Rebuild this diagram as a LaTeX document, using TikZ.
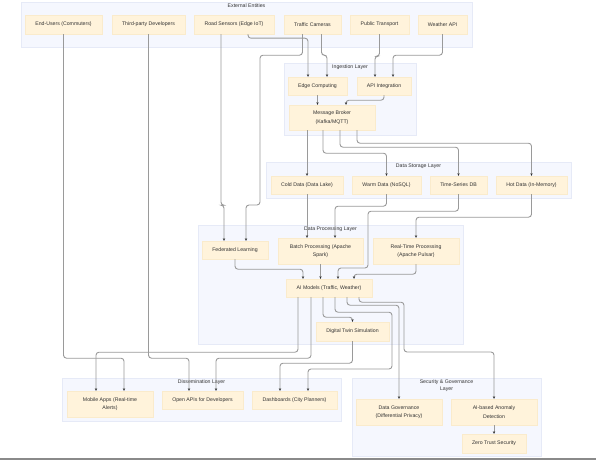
\documentclass[tikz,border=0pt]{standalone}
\usepackage{fontspec}
\setmainfont{Liberation Sans}
\usepackage{xcolor}
\definecolor{textcolor}{HTML}{333333}
\definecolor{layerfill}{HTML}{F5F7FE}
\definecolor{layerborder}{HTML}{E6EAF7}
\definecolor{blockfill}{HTML}{FFF3DB}
\definecolor{blockborder}{HTML}{FAEBCC}
\definecolor{linkcolor}{HTML}{9A9A9A}
\definecolor{tipcolor}{HTML}{2A2A2A}
\definecolor{framecolor}{HTML}{8A8A8A}
\usepackage{tikz}
\usetikzlibrary{positioning,arrows.meta}
\tikzset{
    layer/.style={
        rectangle,
        draw=layerborder,
        fill=layerfill,
        line width=0.6pt,
        inner sep=0pt,
    },
    layertitle/.style={
        text=textcolor,
        font=\fontsize{5.2}{7}\selectfont,
        align=center,
        inner sep=0pt,
        anchor=north,
    },
    block/.style={
        rectangle,
        draw=blockborder,
        fill=blockfill,
        text=textcolor,
        align=center,
        inner sep=0pt,
        line width=0.4pt,
        font=\fontsize{5.2}{8.5}\selectfont,
    },
    link/.style={
        -{Stealth[length=2.6pt,width=2.4pt,color=tipcolor]},
        line width=0.9pt,
        linkcolor,
        rounded corners=3pt,
    },
}

\begin{document}
\begin{tikzpicture}[x=1pt,y=-1pt]
    \useasboundingbox (0,0) rectangle (596,460);

    % Layers
    \node[layer, minimum width=451pt, minimum height=45pt] (extlayer) at (246.5,24.5) {};
    \node[layer, minimum width=132pt, minimum height=72pt] (inglayer) at (350,99) {};
    \node[layer, minimum width=305pt, minimum height=36pt] (storelayer) at (418.5,180) {};
    \node[layer, minimum width=265pt, minimum height=119pt] (proclayer) at (330.5,284.5) {};
    \node[layer, minimum width=279pt, minimum height=43pt] (disslayer) at (201.5,399.5) {};
    \node[layer, minimum width=189pt, minimum height=78pt] (seclayer) at (446.5,417) {};

    \node[layertitle] (exttitle) at (246.5,4) {External Entities};
    \node[layertitle] (ingtitle) at (350,65) {Ingestion Layer};
    \node[layertitle] (storetitle) at (418.5,164) {Data Storage Layer};
    \node[layertitle] (proctitle) at (330.5,227) {Data Processing Layer};
    \node[layertitle] (disstitle) at (201.5,380) {Dissemination Layer};
    \node[layertitle] (sectitle) at (446.5,380) {Security \& Governance\\Layer};

    % External entities
    \node[block, minimum width=77pt, minimum height=19pt] (eusers) at (63.5,24.5) {End-Users (Commuters)};
    \node[block, minimum width=73pt, minimum height=19pt] (tpdev) at (148.5,24.5) {Third-party Developers};
    \node[block, minimum width=80pt, minimum height=19pt] (rsens) at (234,24.5) {Road Sensors (Edge IoT)};
    \node[block, minimum width=57pt, minimum height=19pt] (tcam) at (312.5,24.5) {Traffic Cameras};
    \node[block, minimum width=59pt, minimum height=19pt] (ptrans) at (379.5,24.5) {Public Transport};
    \node[block, minimum width=49pt, minimum height=19pt] (wapi) at (442.5,24.5) {Weather API};

    % Ingestion
    \node[block, minimum width=59pt, minimum height=18pt] (edgec) at (317.5,86) {Edge Computing};
    \node[block, minimum width=54pt, minimum height=18pt] (apiint) at (384,86) {API Integration};
    \node[block, minimum width=86pt, minimum height=25pt] (broker) at (332,117.5) {Message Broker\\(Kafka/MQTT)};

    % Storage
    \node[block, minimum width=72pt, minimum height=18pt] (cold) at (307,185) {Cold Data (Data Lake)};
    \node[block, minimum width=69pt, minimum height=18pt] (warm) at (386.5,185) {Warm Data (NoSQL)};
    \node[block, minimum width=57pt, minimum height=18pt] (tsdb) at (458.5,185) {Time-Series DB};
    \node[block, minimum width=71pt, minimum height=18pt] (hot) at (531.5,185) {Hot Data (In-Memory)};

    % Processing
    \node[block, minimum width=66pt, minimum height=18pt] (fedl) at (235,250) {Federated Learning};
    \node[block, minimum width=85pt, minimum height=26pt] (batch) at (320.5,251) {Batch Processing (Apache\\Spark)};
    \node[block, minimum width=86pt, minimum height=26pt] (rtp) at (416,251) {Real-Time Processing\\(Apache Pulsar)};
    \node[block, minimum width=86pt, minimum height=18pt] (aimod) at (329,288) {AI Models (Traffic, Weather)};
    \node[block, minimum width=73pt, minimum height=19pt] (dtwin) at (352.5,331.5) {Digital Twin Simulation};

    % Dissemination
    \node[block, minimum width=86pt, minimum height=26pt] (mobapp) at (110,404) {Mobile Apps (Real-time\\Alerts)};
    \node[block, minimum width=81pt, minimum height=18pt] (openapi) at (202.5,400) {Open APIs for Developers};
    \node[block, minimum width=85pt, minimum height=18pt] (dash) at (294.5,400) {Dashboards (City Planners)};

    % Security
    \node[block, minimum width=86pt, minimum height=26pt] (datagov) at (399,412) {Data Governance\\(Differential Privacy)};
    \node[block, minimum width=86pt, minimum height=26pt] (anomaly) at (494,412) {AI-based Anomaly\\Detection};
    \node[block, minimum width=64pt, minimum height=19pt] (zerotr) at (494,443.5) {Zero Trust Security};

    % Into ingestion
    \draw[link] ([xshift=14pt]rsens.south) -- ++(0,4) -| ([xshift=-9.5pt]edgec.north);
    \draw[link] ([xshift=9pt]tcam.south) -- ++(0,21) -| ([xshift=9.5pt]edgec.north);
    \draw[link] (ptrans.south) -- ++(0,22) -| ([xshift=-9pt]apiint.north);
    \draw[link] (wapi.south) -- ++(0,21) -| ([xshift=9pt]apiint.north);
    \draw[link] (edgec.south) -- (edgec.south |- broker.north);
    \draw[link] (apiint.south) -- ++(0,5) -| ([xshift=14pt]broker.north);

    % Sensors and cameras to federated learning
    \draw[link] ([xshift=-13pt]rsens.south) -- ++(0,171) -| ([xshift=-11pt]fedl.north);
    \draw[link] ([xshift=-10pt]tcam.south) -- ++(0,21) -| (260,205) -| ([xshift=11pt]fedl.north);

    % Broker to storage
    \draw[link] ([xshift=-25pt]broker.south) -- (cold.north);
    \draw[link] ([xshift=-9pt]broker.south) -- ++(0,23) -| (warm.north);
    \draw[link] ([xshift=8pt]broker.south) -- ++(0,17) -| (tsdb.north);
    \draw[link] ([xshift=25pt]broker.south) -- ++(0,13) -| (hot.north);

    % Storage to processing
    \draw[link] (cold.south) -- ([xshift=-13.5pt]batch.north);
    \draw[link] (warm.south) -- ++(0,12) -| ([xshift=14.5pt]batch.north);
    \draw[link] (tsdb.south) -- ++(0,17) -| (368,268) -| ([xshift=9pt]aimod.north);
    \draw[link] (hot.south) -- ++(0,23) -| (rtp.north);
    \draw[link] (fedl.south) -- ++(0,10) -| ([xshift=-26pt]aimod.north);
    \draw[link] (batch.south) -- (batch.south |- aimod.north);
    \draw[link] (rtp.south) -- ++(0,10) -| ([xshift=25pt]aimod.north);

    % AI models outputs
    \draw[link] ([xshift=-31pt]aimod.south) -- ++(0,55) -| ([xshift=-14pt]mobapp.north);
    \draw[link] ([xshift=-18pt]aimod.south) -- ++(0,61) -| ([xshift=13.5pt]openapi.north);
    \draw[link] ([xshift=-6pt]aimod.south) -- ++(0,20) -| (dtwin.north);
    \draw[link] ([xshift=6pt]aimod.south) -- ++(0,15) -| (392,369) -| ([xshift=13.5pt]dash.north);
    \draw[link] ([xshift=18pt]aimod.south) -- ++(0,8) -| (datagov.north);
    \draw[link] ([xshift=30pt]aimod.south) -- ++(0,5) -| (404,352) -| (anomaly.north);
    \draw[link] (dtwin.south) -- ++(0,22) -| ([xshift=-14.5pt]dash.north);

    % Users and developers
    \draw[link] (eusers.south) -- ++(0,324) -| ([xshift=14pt]mobapp.north);
    \draw[link] (tpdev.south) -- ++(0,324) -| ([xshift=-13.5pt]openapi.north);

    % Security chain
    \draw[link] (anomaly.south) -- (zerotr.north);

    % Frame edge
    \draw[framecolor, line width=2pt] (0,459) -- (596,459);
\end{tikzpicture}
\end{document}
